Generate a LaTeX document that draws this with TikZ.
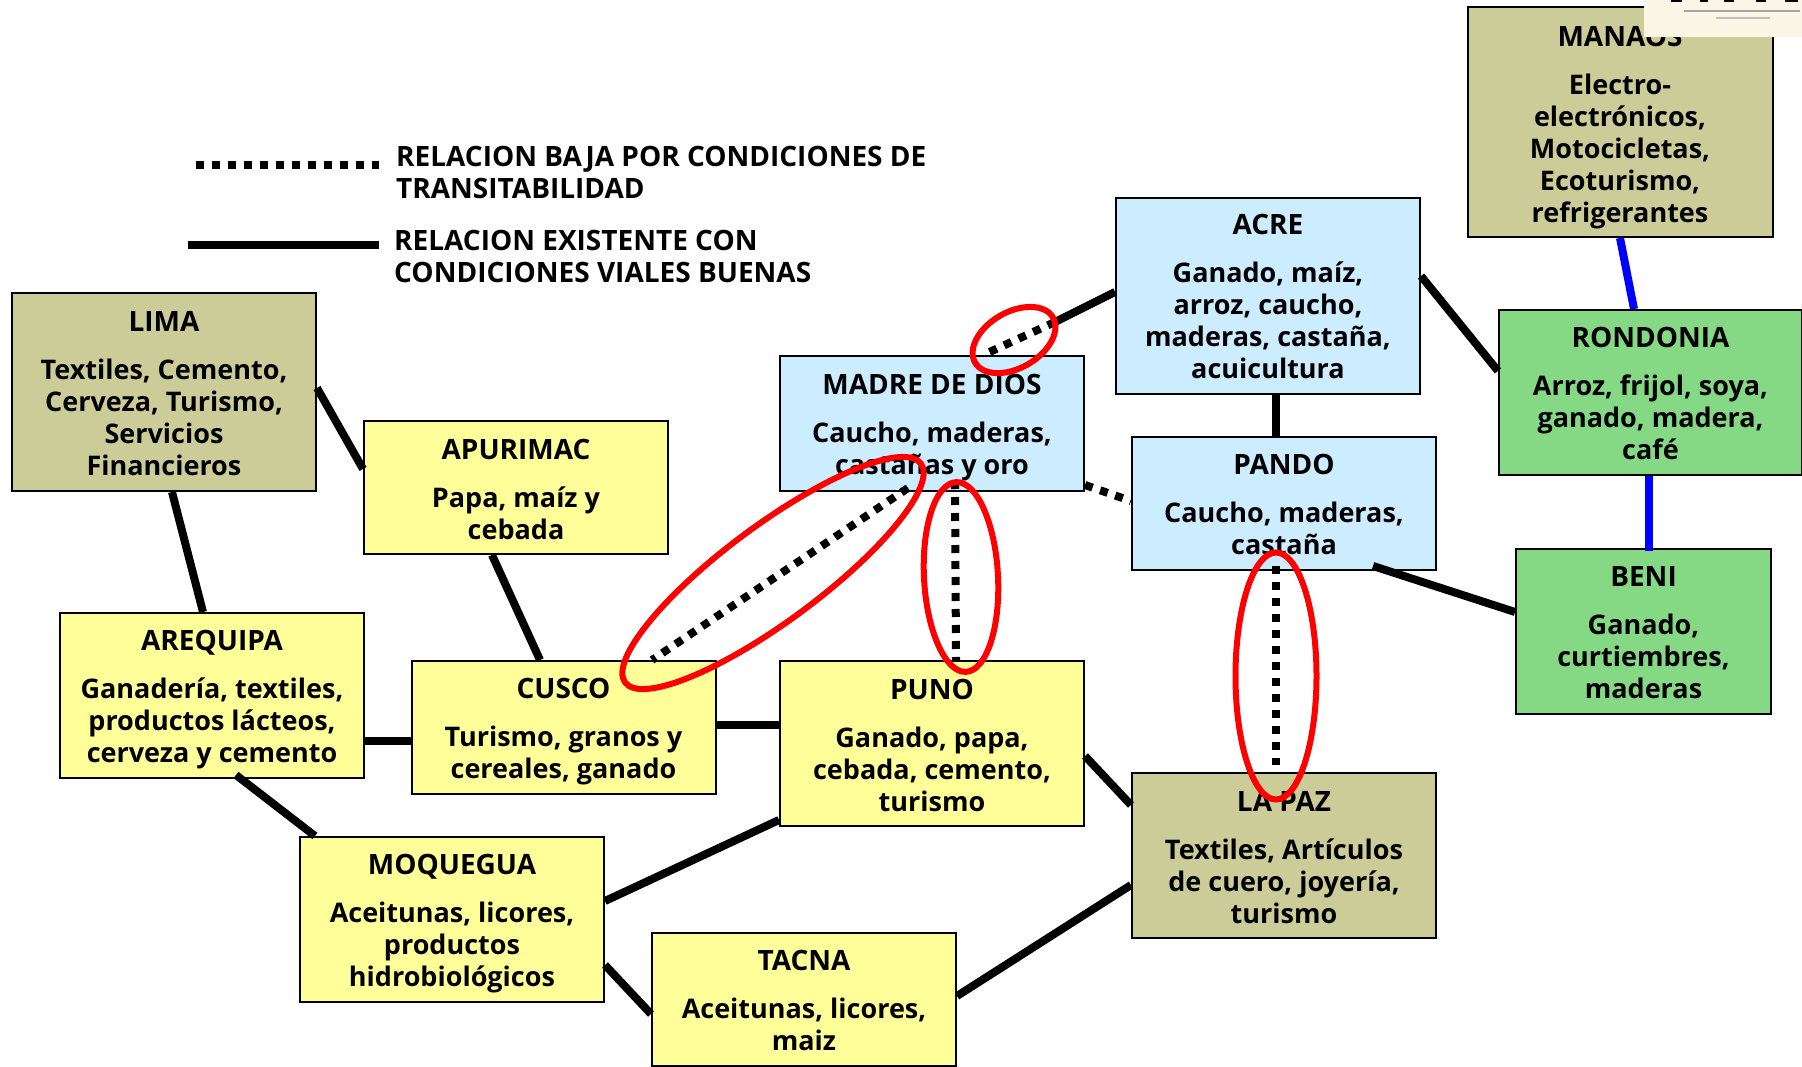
\documentclass[tikz,border=0pt]{standalone}
\usepackage{fontspec}
\setmainfont{Open Sans}
\usetikzlibrary{shapes}
\usetikzlibrary{positioning}
\definecolor{yellowfill}{HTML}{FFFF99}
\definecolor{bluefill}{HTML}{CCECFF}
\definecolor{greenfill}{HTML}{85D985}
\definecolor{olivefill}{HTML}{CCCC99}
\definecolor{logofill}{HTML}{FBF5E6}
\newcommand{\regname}[1]{{\fontsize{28}{32}\selectfont #1}\\[16pt]}
\newcommand{\textdrop}[1]{\\[#1pt]}
\tikzset{
    region/.style={draw=black,line width=2pt,minimum width=304pt,inner sep=0pt,align=center,
        font=\fontsize{27}{32}\selectfont\bfseries},
    yellowbox/.style={region,fill=yellowfill},
    bluebox/.style={region,fill=bluefill},
    greenbox/.style={region,fill=greenfill},
    olivebox/.style={region,fill=olivefill},
    good/.style={line width=8pt,black},
    low/.style={line width=8pt,black,dash pattern=on 8pt off 8pt},
    fluvial/.style={line width=8pt,blue},
    redring/.style={ellipse,draw=red,line width=6pt,inner sep=0pt},
    legend/.style={anchor=west,align=left,inner sep=0pt,
        font=\fontsize{28}{32}\selectfont\bfseries}
}
\begin{document}
\begin{tikzpicture}[x=1pt,y=-1pt]
    \useasboundingbox (0,0) rectangle (1802,1067);
    \node[olivebox,minimum height=198pt] (lima) at (164,392) {\textdrop{-8}\regname{LIMA}Textiles, Cemento,\\Cerveza, Turismo,\\Servicios\\Financieros};
    \node[yellowbox,minimum height=133pt] (apurimac) at (516,487.5) {\textdrop{-7}\regname{APURIMAC}Papa, maíz y\\cebada};
    \node[yellowbox,minimum height=165pt] (arequipa) at (212,695.5) {\textdrop{-3}\regname{AREQUIPA}Ganadería, textiles,\\productos lácteos,\\cerveza y cemento};
    \node[yellowbox,minimum height=133pt] (cusco) at (563.5,727.5) {\textdrop{-3}\regname{CUSCO}Turismo, granos y\\cereales, ganado};
    \node[yellowbox,minimum height=165pt] (puno) at (932,743.5) {\textdrop{-7}\regname{PUNO}Ganado, papa,\\cebada, cemento,\\turismo};
    \node[yellowbox,minimum height=165pt] (moquegua) at (452,919.5) {\textdrop{-3}\regname{MOQUEGUA}Aceitunas, licores,\\productos\\hidrobiológicos};
    \node[yellowbox,minimum height=133pt] (tacna) at (804,999.5) {\textdrop{-10}\regname{TACNA}Aceitunas, licores,\\maiz};
    \node[olivebox,minimum height=165pt] (lapaz) at (1284,855) {\textdrop{-7}\regname{LA PAZ}Textiles, Artículos\\de cuero, joyería,\\turismo};
    \node[bluebox,minimum height=135pt] (madre) at (932,423.5) {\textdrop{-3}\regname{MADRE DE DIOS}Caucho, maderas,\\castañas y oro};
    \node[bluebox,minimum height=133pt] (pando) at (1284,503.5) {\textdrop{-10}\regname{PANDO}Caucho, maderas,\\castaña};
    \node[bluebox,minimum height=196pt] (acre) at (1268,296) {\regname{ACRE}Ganado, maíz,\\arroz, caucho,\\maderas, castaña,\\acuicultura};
    \node[greenbox,minimum height=165pt,minimum width=303pt] (rondonia) at (1650.5,392.5) {\textdrop{-10}\regname{RONDONIA}Arroz, frijol, soya,\\ganado, madera,\\café};
    \node[greenbox,minimum height=165pt,minimum width=255pt] (beni) at (1643.5,631.5) {\textdrop{-10}\regname{BENI}Ganado,\\curtiembres,\\maderas};
    \node[olivebox,minimum height=230pt,minimum width=305pt] (manaos) at (1620,122) {\textdrop{-1}\regname{MANAOS}Electro-\\electrónicos,\\Motocicletas,\\Ecoturismo,\\refrigerantes};

    % legend
    \coordinate (lowa) at (196,165);
    \coordinate (lowb) at (379,165);
    \coordinate (gooda) at (188,245);
    \coordinate (goodb) at (379,245);
    \draw[low] (lowa) to (lowb);
    \draw[good] (gooda) to (goodb);
    \node[legend] (lowtext) at (396,172) {RELACION BAJA POR CONDICIONES DE\\TRANSITABILIDAD};
    \node[legend] (goodtext) at (394,256) {RELACION EXISTENTE CON\\CONDICIONES VIALES BUENAS};

    % solid roads
    \draw[good] ([yshift=4pt]lima.east) to ([yshift=18.5pt]apurimac.west);
    \draw[good] ([xshift=8pt]lima.south) to ([xshift=-9pt]arequipa.north);
    \draw[good] ([xshift=-24pt]apurimac.south) to ([xshift=-23.5pt]cusco.north);
    \draw[good] ([yshift=-45.5pt]arequipa.east) to ([yshift=-13.5pt]cusco.west);
    \draw[good] ([yshift=2.5pt]cusco.east) to ([yshift=18.5pt]puno.west);
    \draw[good] ([xshift=24pt,yshift=4pt]arequipa.south) to ([xshift=-137pt]moquegua.north);
    \draw[good] ([yshift=18.5pt]moquegua.east) to ([yshift=-76.5pt]puno.west);
    \draw[good] ([yshift=-45.5pt]moquegua.east) to ([yshift=-14.5pt]tacna.west);
    \draw[good] ([yshift=3.5pt]tacna.east) to ([yshift=-30pt]lapaz.west);
    \draw[good] ([yshift=-12.5pt]puno.east) to ([yshift=50pt]lapaz.west);
    \draw[good] ([yshift=20pt]acre.east) to ([yshift=21.5pt]rondonia.west);
    \draw[good] ([xshift=8pt]acre.south) to ([xshift=-8pt]pando.north);
    \draw[good] ([xshift=89pt,yshift=5pt]pando.south) to ([yshift=19.5pt]beni.west);
    \draw[fluvial] (manaos.south) to ([xshift=-16.5pt]rondonia.north);
    \draw[fluvial] ([xshift=-1.5pt]rondonia.south) to ([xshift=5.5pt,yshift=-3pt]beni.north);

    % low roads
    \coordinate (acrebreak) at (1055,322);
    \draw[good] ([yshift=4pt]acre.west) to (acrebreak);
    \draw[low] (acrebreak) to ([xshift=51pt]madre.north);
    \draw[low] ([xshift=-24pt,yshift=4pt]madre.south) to ([xshift=88.5pt]cusco.north);
    \draw[low] ([xshift=23pt,yshift=11pt]madre.south) to ([xshift=24pt]puno.north);
    \draw[low] ([yshift=-61.5pt]madre.east) to ([yshift=2.5pt]pando.west);
    \draw[low] ([xshift=-8pt,yshift=5pt]pando.south) to ([xshift=-8pt,yshift=7pt]lapaz.north);

    \node[redring,minimum width=368pt,minimum height=96pt,rotate=36.5] (ringcusco) at (773,573) {};
    \node[redring,minimum width=90pt,minimum height=56pt,rotate=30] (ringacre) at (1014,340) {};
    \node[redring,minimum width=190pt,minimum height=74pt,rotate=93] (ringpuno) at (961,577) {};
    \node[redring,minimum width=247pt,minimum height=81pt,rotate=90] (ringpaz) at (1276,676) {};

    % logo
    \fill[logofill] (1644,0) rectangle (1802,37);
    \fill[black] (1671,0) rectangle (1682,2);
    \fill[black] (1700,0) rectangle (1708,2);
    \fill[black] (1724,0) rectangle (1734,2);
    \fill[black] (1756,0) rectangle (1766,2);
    \fill[black] (1785,0) rectangle (1798,2);
    \draw[line width=2pt,gray!70] (1684,11) to (1800,11);
    \draw[line width=2pt,gray!50] (1716,18) to (1770,18);
\end{tikzpicture}
\end{document}
